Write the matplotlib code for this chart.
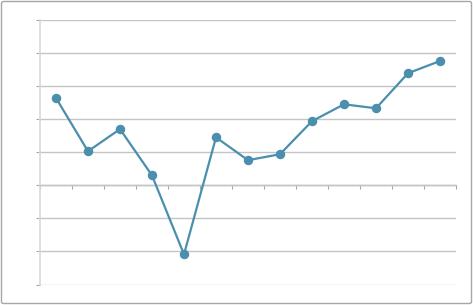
import matplotlib
matplotlib.use("Agg")
import matplotlib.pyplot as plt
from matplotlib.patches import FancyBboxPatch

categories = list(range(1, 14))
values = [2.64, 1.03, 1.70, 0.30, -2.09, 1.45, 0.76, 0.94, 1.94, 2.45, 2.33, 3.39, 3.76]
y_ticks = [-3, -2, -1, 0, 1, 2, 3, 4, 5]

W, H = 473, 305
fig = plt.figure(figsize=(W / 100, H / 100), dpi=100)
ax = fig.add_axes([40 / W, (H - 284.5) / H, 416 / W, 264.5 / H])

xs = [i - 0.5 for i in categories]
ax.plot(xs, values, color="#4a8fad", lw=1.6, marker="o", ms=5.8,
        markerfacecolor="#4a8fad", markeredgecolor="#4a8fad", zorder=3,
        solid_joinstyle="round")

ax.set_xlim(0, len(categories))
ax.set_ylim(y_ticks[0], y_ticks[-1])
ax.set_yticks(y_ticks)
ax.set_xticks(range(0, len(categories) + 1))
ax.set_yticklabels([])
ax.set_xticklabels([])
ax.grid(axis="y", color="#c4c4c4", lw=1)
ax.set_axisbelow(True)

for s in ["top", "right"]:
    ax.spines[s].set_visible(False)
ax.spines["left"].set_color("#d9d9d9")
ax.spines["left"].set_linewidth(1.2)
ax.spines["bottom"].set_position(("data", 0))
ax.spines["bottom"].set_color("#c4c4c4")
ax.spines["bottom"].set_linewidth(1)
ax.tick_params(axis="y", direction="out", length=3, color="#a6a6a6", width=0.8)
ax.tick_params(axis="x", direction="out", length=3, color="#a6a6a6", width=0.8)

border = FancyBboxPatch((1.5 / W, 1.5 / H), (W - 3) / W, (H - 3) / H,
                        boxstyle="round,pad=0,rounding_size=0.005",
                        transform=fig.transFigure, fill=False,
                        edgecolor="#a6a6a6", lw=1)
fig.patches.append(border)

fig.savefig("out.png", dpi=100)
